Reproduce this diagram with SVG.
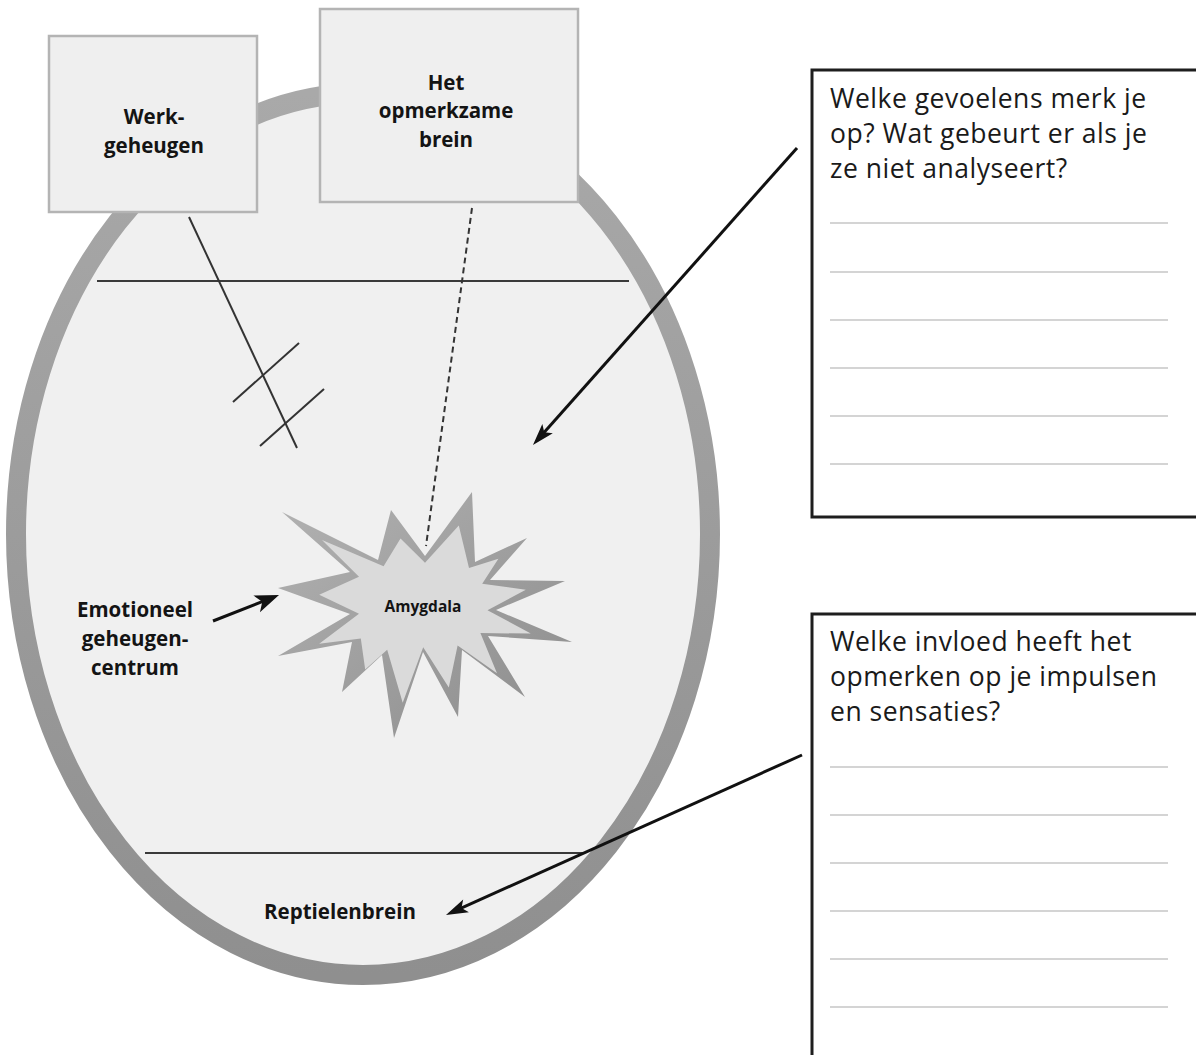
<svg xmlns="http://www.w3.org/2000/svg" width="1196" height="1055" viewBox="0 0 1196 1055">
  <style>
    .label { font-family: "Open Sans", "Noto Sans", "Liberation Sans", sans-serif; font-weight: 700; font-size: 20.5px; fill: #141414; text-anchor: middle; }
    .small { font-size: 15.5px; }
    .question { font-family: "Open Sans", "Noto Sans", "Liberation Sans", sans-serif; font-size: 26.5px; letter-spacing: 0.5px; fill: #1a1a1a; }
    .box { fill: #efefef; stroke: #b4b4b4; stroke-width: 2.5; }
    .panel { fill: #ffffff; stroke: #1e1e1e; stroke-width: 3; }
    .rule { stroke: #c6c6c6; stroke-width: 1.6; }
    .divider { stroke: #3a3a3a; stroke-width: 2.2; }
    .thin { stroke: #333333; stroke-width: 2; fill: none; }
    .arrow { stroke: #111111; stroke-width: 3; fill: none; }
  </style>
  <defs>
    <linearGradient id="ringGrad" x1="0" y1="0" x2="0" y2="1">
      <stop offset="0" stop-color="#a9a9a9"/>
      <stop offset="1" stop-color="#8f8f8f"/>
    </linearGradient>
    <linearGradient id="bevelGrad" x1="0" y1="0" x2="1" y2="1">
      <stop offset="0" stop-color="#b2b2b2"/>
      <stop offset="1" stop-color="#8c8c8c"/>
    </linearGradient>
    <marker id="head" markerUnits="userSpaceOnUse" markerWidth="30" markerHeight="30" orient="auto" overflow="visible">
      <path d="M10,0 L-12,-7 L-7,0 L-12,7 Z" fill="#111111"/>
    </marker>
    <marker id="headBold" markerUnits="userSpaceOnUse" markerWidth="30" markerHeight="30" orient="auto" overflow="visible">
      <path d="M10,0 L-14,-9 L-8,0 L-14,9 Z" fill="#111111"/>
    </marker>
  </defs>

  <rect width="1196" height="1055" fill="#ffffff"/>

  <!-- brain outline -->
  <g id="brain">
    <ellipse cx="363" cy="534" rx="347" ry="441" fill="#f0f0f0" stroke="url(#ringGrad)" stroke-width="20"/>
    <line class="divider" x1="97" y1="281" x2="629" y2="281"/>
    <line class="divider" x1="145" y1="853" x2="584" y2="853"/>
  </g>

  <!-- connectors -->
  <g id="connectors">
    <line class="thin" x1="189" y1="217" x2="297" y2="448"/>
    <line class="thin" x1="233" y1="402" x2="299" y2="343"/>
    <line class="thin" x1="260" y1="446" x2="324" y2="389"/>
    <line class="thin" x1="472" y1="208" x2="426" y2="546" stroke-width="2.5" stroke-dasharray="6 4"/>
    <line class="arrow" x1="797" y1="148" x2="539.6" y2="437.5" marker-end="url(#head)"/>
    <line class="arrow" x1="802" y1="755" x2="455.1" y2="910.9" marker-end="url(#head)"/>
    <line class="arrow" x1="213" y1="621" x2="269.7" y2="598.7" stroke-width="5" marker-end="url(#headBold)"/>
  </g>

  <g id="werkgeheugen">
    <rect class="box" x="49" y="36" width="208" height="176"/>
    <text class="label" x="154" y="124">Werk-</text>
    <text class="label" x="154" y="153">geheugen</text>
  </g>

  <g id="opmerkzame-brein">
    <rect class="box" x="320" y="9" width="258" height="193"/>
    <text class="label" x="446" y="90">Het</text>
    <text class="label" x="446" y="118">opmerkzame</text>
    <text class="label" x="446" y="147">brein</text>
  </g>

  <g id="amygdala">
    <polygon fill="url(#bevelGrad)" points="282,512 378,560 391,510 425,556 472,492 475,562 527,538 490,580 565,581 496,610 572,642 488,636 525,697 462,650 458,717 423,652 394,738 382,655 342,692 352,642 278,656 350,614 278,588 350,572"/>
    <polygon fill="#dadada" points="322,540 383.6,566.2 400.5,538.6 425,562.7 458.8,525.6 469,568 498.4,558.7 482.2,583.8 525.8,589.7 487.5,610.2 530.8,633.6 480.4,633.1 497,673.2 457.6,645.4 448.8,687.6 423.2,647.2 402.7,702.7 387.2,649.8 365.2,669.6 360.8,638.4 319.2,643.7 359,613.8 319.2,594.7 359,576.8"/>
    <text class="label small" x="423" y="612">Amygdala</text>
  </g>

  <g id="emotioneel-geheugencentrum">
    <text class="label" x="135" y="617">Emotioneel</text>
    <text class="label" x="135" y="646">geheugen-</text>
    <text class="label" x="135" y="675">centrum</text>
  </g>

  <g id="reptielenbrein">
    <text class="label" x="340" y="919">Reptielenbrein</text>
  </g>

  <g id="vraag-gevoelens">
    <rect class="panel" x="812" y="70" width="400" height="447"/>
    <text class="question" x="830" y="108">Welke gevoelens merk je</text>
    <text class="question" x="830" y="143">op? Wat gebeurt er als je</text>
    <text class="question" x="830" y="178">ze niet analyseert?</text>
    <line class="rule" x1="830" y1="223" x2="1168" y2="223"/>
    <line class="rule" x1="830" y1="272" x2="1168" y2="272"/>
    <line class="rule" x1="830" y1="320" x2="1168" y2="320"/>
    <line class="rule" x1="830" y1="368" x2="1168" y2="368"/>
    <line class="rule" x1="830" y1="416" x2="1168" y2="416"/>
    <line class="rule" x1="830" y1="464" x2="1168" y2="464"/>
  </g>

  <g id="vraag-impulsen">
    <rect class="panel" x="812" y="614" width="400" height="460"/>
    <text class="question" x="830" y="651">Welke invloed heeft het</text>
    <text class="question" x="830" y="686">opmerken op je impulsen</text>
    <text class="question" x="830" y="721">en sensaties?</text>
    <line class="rule" x1="830" y1="767" x2="1168" y2="767"/>
    <line class="rule" x1="830" y1="815" x2="1168" y2="815"/>
    <line class="rule" x1="830" y1="863" x2="1168" y2="863"/>
    <line class="rule" x1="830" y1="911" x2="1168" y2="911"/>
    <line class="rule" x1="830" y1="959" x2="1168" y2="959"/>
    <line class="rule" x1="830" y1="1007" x2="1168" y2="1007"/>
  </g>
</svg>
